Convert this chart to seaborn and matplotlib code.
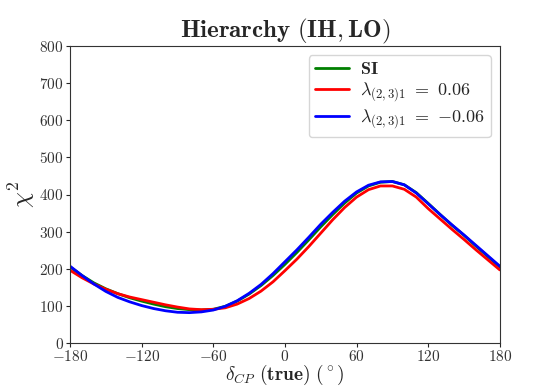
import numpy as np
import pandas as pd
import seaborn as sns
import matplotlib
matplotlib.use('Agg')
import matplotlib.pyplot as plt

# 数据：delta_CP (true) 每 10 度取一个点
delta_cp = list(range(-180, 181, 10))

chi2_si = [205, 182, 162, 146, 133, 122, 113, 105, 98, 93, 90, 89, 91, 99, 113, 132, 155, 182, 212,
           244, 278, 313, 346, 377, 404, 423, 433, 435, 426, 405, 376, 346, 317, 290, 261, 233, 205]
chi2_pos = [196, 176, 159, 145, 133, 124, 117, 110, 103, 97, 92, 90, 91, 95, 105, 120, 140, 165, 195,
            226, 260, 296, 332, 365, 393, 413, 423, 423, 414, 393, 362, 334, 306, 279, 251, 224, 197]
chi2_neg = [207, 182, 159, 139, 123, 111, 101, 93, 87, 83, 82, 84, 89, 99, 114, 134, 158, 187, 219,
            251, 285, 320, 352, 382, 407, 425, 434, 435, 426, 404, 375, 346, 318, 291, 263, 235, 207]

labels = [r'$\mathbf{SI}$',
          r'$\lambda_{(2,3)1}\ =\ \mathbf{0.06}$',
          r'$\lambda_{(2,3)1}\ =\ \mathbf{-0.06}$']
colors = ['green', 'red', 'blue']

xticks = [-180, -120, -60, 0, 60, 120, 180]
yticks = list(range(0, 801, 100))

sns.set_style('ticks')
plt.rcParams['font.family'] = 'serif'
plt.rcParams['font.serif'] = ['cmr10', 'DejaVu Serif']
plt.rcParams['mathtext.fontset'] = 'cm'
plt.rcParams['axes.formatter.use_mathtext'] = True
plt.rcParams['axes.unicode_minus'] = True

df = pd.concat([
    pd.DataFrame({'delta': delta_cp, 'chi2': chi2_si, 'case': labels[0]}),
    pd.DataFrame({'delta': delta_cp, 'chi2': chi2_pos, 'case': labels[1]}),
    pd.DataFrame({'delta': delta_cp, 'chi2': chi2_neg, 'case': labels[2]}),
])

fig = plt.figure(figsize=(5.56, 3.89), dpi=100)
ax = fig.add_axes([0.126, 0.118, 0.773, 0.764])

sns.lineplot(data=df, x='delta', y='chi2', hue='case', hue_order=labels,
             palette=colors, linewidth=2, ax=ax)

ax.set_xlim(-180, 180)
ax.set_ylim(0, 800)
ax.set_xticks(xticks)
ax.set_yticks(yticks)
ax.tick_params(labelsize=11, labelcolor='#333333', direction='out', length=3, pad=1.5)
for s in ax.spines.values():
    s.set_color('#333333')

ax.set_title(r'$\mathbf{Hierarchy\ (IH, LO)}$', fontsize=18, pad=3)
ax.set_xlabel(r'$\delta_{CP}\ \mathbf{(true)\ (^\circ)}$', fontsize=14, labelpad=-1)
ax.set_ylabel(r'$\chi^2$', fontsize=18, labelpad=2)

leg = ax.legend(loc='upper right', fontsize=13, frameon=True, handlelength=1.9,
                labelspacing=0.2, borderpad=0.35, handletextpad=0.6)
leg.get_frame().set_edgecolor('#cccccc')

fig.savefig('out.png', dpi=100)
